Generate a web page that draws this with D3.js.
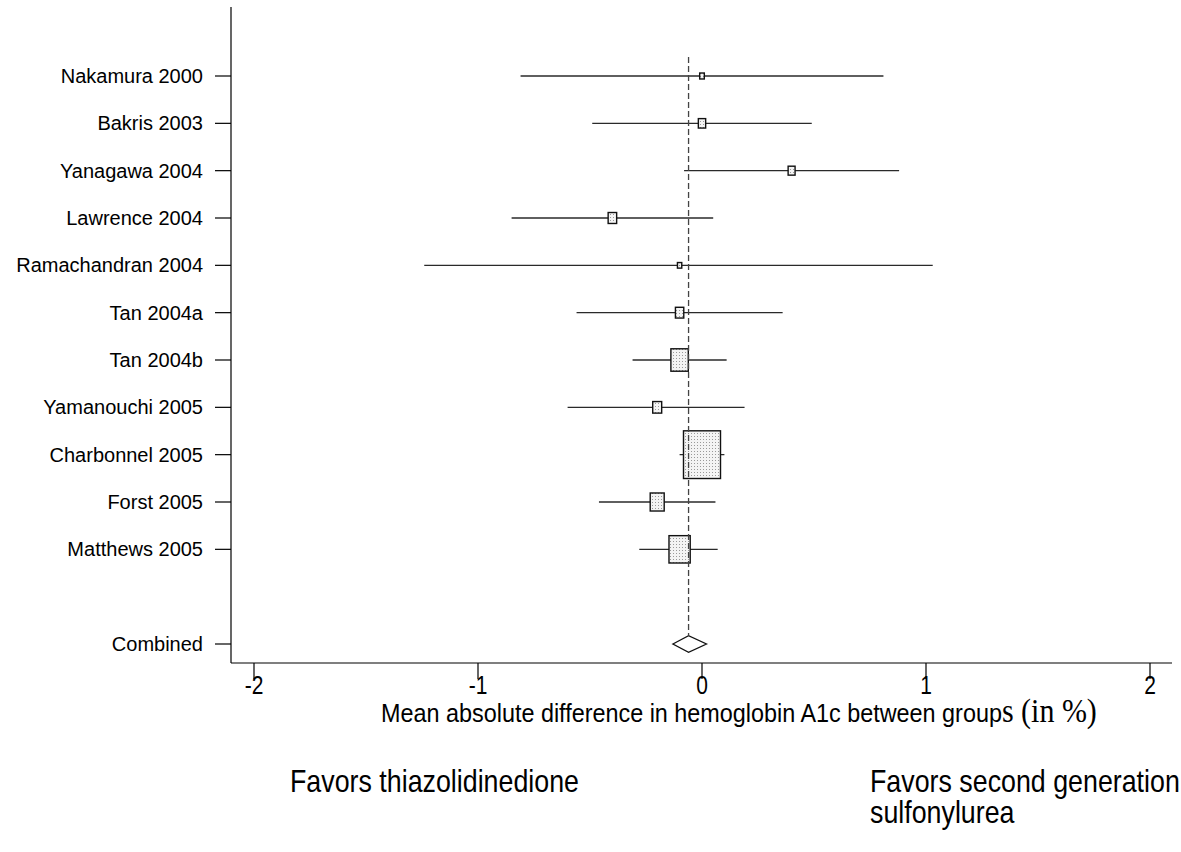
<!DOCTYPE html>
<html>
<head>
<meta charset="utf-8">
<script src="https://cdn.jsdelivr.net/npm/d3@7"></script>
<style>
  html, body { margin: 0; padding: 0; background: #fff; }
  svg { display: block; }
</style>
</head>
<body>
<svg id="chart" width="1181" height="852"></svg>
<script>
// Trials comparing thiazolidinediones with second generation sulfonylureas
const studies = ["Nakamura 2000", "Bakris 2003", "Yanagawa 2004", "Lawrence 2004",
  "Ramachandran 2004", "Tan 2004a", "Tan 2004b", "Yamanouchi 2005",
  "Charbonnel 2005", "Forst 2005", "Matthews 2005"];
// Mean difference in HbA1c (%) with 95% confidence limits
const estimates = [0.00, 0.00, 0.40, -0.40, -0.10, -0.10, -0.10, -0.20, 0.00, -0.20, -0.10];
const lower     = [-0.81, -0.49, -0.08, -0.85, -1.24, -0.56, -0.31, -0.60, -0.10, -0.46, -0.28];
const upper     = [0.81, 0.49, 0.88, 0.05, 1.03, 0.36, 0.11, 0.19, 0.10, 0.06, 0.07];
// Relative study weights (%), shown as box area
const weights   = [0.8, 2.0, 1.8, 2.7, 0.7, 2.6, 11.3, 3.0, 51.1, 7.3, 16.8];
// Pooled estimate
const pooledLabel = "Combined";
const pooled = { est: -0.06, lo: -0.13, hi: 0.02 };
const xTicks = [-2, -1, 0, 1, 2];

const svg = d3.select("#chart");

const x = d3.scaleLinear().domain([-2, 2]).range([254, 1150]);
// one row per study, a blank row, then the pooled row
const y = d3.scaleLinear().domain([0, 12]).range([76, 644]);
const pooledRow = 12;
const boxH = d3.scaleSqrt().domain([0, 51.1]).range([0, 47.7]);
const boxAspect = 0.776;

const axisLeftX = 231, axisBottomY = 663;

// stipple fill for the weight boxes
const defs = svg.append("defs");
const pat = defs.append("pattern").attr("id", "stipple")
  .attr("width", 3).attr("height", 3).attr("patternUnits", "userSpaceOnUse");
pat.append("rect").attr("width", 3).attr("height", 3).attr("fill", "#f4f4f4");
pat.append("rect").attr("x", 1).attr("y", 1).attr("width", 1).attr("height", 1).attr("fill", "#9a9a9a");

// axes frame
svg.append("line").attr("x1", axisLeftX).attr("x2", axisLeftX)
  .attr("y1", 7).attr("y2", axisBottomY).attr("stroke", "#000").attr("stroke-width", 1.2);
svg.append("line").attr("x1", axisLeftX).attr("x2", 1172)
  .attr("y1", axisBottomY).attr("y2", axisBottomY).attr("stroke", "#000").attr("stroke-width", 1.2);

// left tick marks and study labels
const rowIdx = studies.map((d, i) => i).concat([pooledRow]);
const rowNames = studies.concat([pooledLabel]);
svg.append("g").selectAll("line").data(rowIdx).join("line")
  .attr("x1", 215).attr("x2", axisLeftX)
  .attr("y1", d => y(d)).attr("y2", d => y(d))
  .attr("stroke", "#000").attr("stroke-width", 1.2);
svg.append("g").selectAll("text").data(rowIdx).join("text")
  .attr("x", 203).attr("y", d => y(d))
  .attr("text-anchor", "end").attr("dominant-baseline", "central")
  .attr("font-family", "Liberation Sans, Arial, sans-serif").attr("font-size", 20)
  .text((d, i) => rowNames[i]);

// bottom ticks and labels
svg.append("g").selectAll("line").data(xTicks).join("line")
  .attr("x1", d => x(d)).attr("x2", d => x(d))
  .attr("y1", axisBottomY).attr("y2", axisBottomY + 16)
  .attr("stroke", "#000").attr("stroke-width", 1.2);
svg.append("g").selectAll("text").data(xTicks).join("text")
  .attr("transform", d => `translate(${x(d)},694) scale(1,1.2)`)
  .attr("text-anchor", "middle")
  .attr("font-family", "Liberation Sans, Arial, sans-serif").attr("font-size", 21)
  .text(d => d3.format("d")(d).replace("−", "-"));

// confidence interval lines
const g = svg.append("g");
g.selectAll("line.ci").data(studies).join("line").attr("class", "ci")
  .attr("x1", (d, i) => x(lower[i])).attr("x2", (d, i) => x(upper[i]))
  .attr("y1", (d, i) => y(i)).attr("y2", (d, i) => y(i))
  .attr("stroke", "#2a2a2a").attr("stroke-width", 1.3);

// weight boxes
g.selectAll("rect.box").data(studies).join("rect").attr("class", "box")
  .attr("x", (d, i) => x(estimates[i]) - boxH(weights[i]) * boxAspect / 2)
  .attr("y", (d, i) => y(i) - boxH(weights[i]) / 2)
  .attr("width", (d, i) => boxH(weights[i]) * boxAspect)
  .attr("height", (d, i) => boxH(weights[i]))
  .attr("fill", "url(#stipple)").attr("stroke", "#111").attr("stroke-width", 1.4);

// pooled diamond
const py = y(pooledRow), ph = 8.3;
g.append("path")
  .attr("d", `M${x(pooled.lo)},${py} L${x(pooled.est)},${py - ph} L${x(pooled.hi)},${py} L${x(pooled.est)},${py + ph} Z`)
  .attr("fill", "#fff").attr("stroke", "#111").attr("stroke-width", 1.3);

// dashed reference line at the pooled estimate
svg.append("line")
  .attr("x1", x(pooled.est)).attr("x2", x(pooled.est))
  .attr("y1", y(-0.4)).attr("y2", py - ph)
  .attr("stroke", "#444").attr("stroke-width", 1.3)
  .attr("stroke-dasharray", "6,3");

// x-axis title
const title = svg.append("text")
  .attr("transform", "translate(381,722) scale(1,1.1)")
  .attr("font-family", "Liberation Sans, Arial, sans-serif").attr("font-size", 23.4);
title.append("tspan").text("Mean absolute difference in hemoglobin A1c between group");
title.append("tspan").attr("font-family", "Liberation Serif, Times New Roman, serif")
  .attr("font-size", 30).text("s (in %)");

// direction captions
const cap = (tx, ty, s) => svg.append("text")
  .attr("transform", `translate(${tx},${ty}) scale(1,1.15)`)
  .attr("font-family", "Liberation Sans, Arial, sans-serif").attr("font-size", 26.8)
  .text(s);
cap(290, 792, "Favors thiazolidinedione");
cap(870, 792, "Favors second generation");
cap(870, 823, "sulfonylurea");
</script>
</body>
</html>
